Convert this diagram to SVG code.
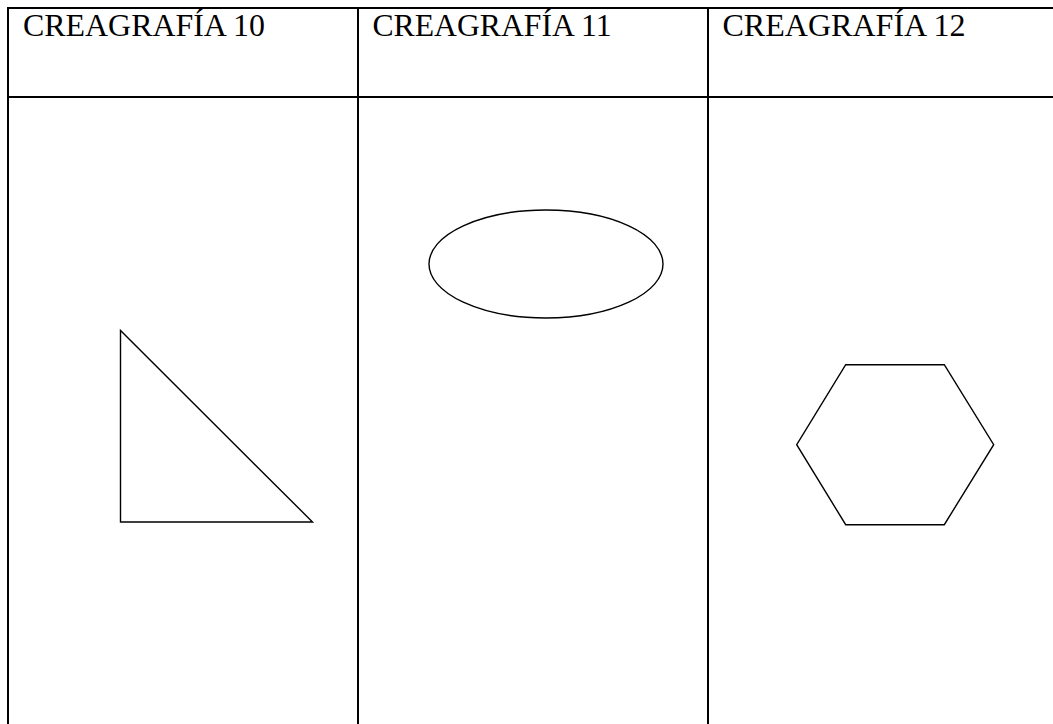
<svg xmlns="http://www.w3.org/2000/svg" width="1053" height="724" viewBox="0 0 1053 724">
<style>
.grid{stroke:#000;stroke-width:2;fill:none}
.shape{stroke:#000;stroke-width:1.4;fill:none}
.hdr{font-family:"Liberation Serif","Times New Roman",serif;font-size:31px;fill:#000}
</style>
<rect width="1053" height="724" fill="#fff"/>
<g id="table" class="grid">
<line x1="7" y1="8" x2="1053" y2="8"/>
<line x1="7" y1="97" x2="1053" y2="97"/>
<line x1="8" y1="7" x2="8" y2="724"/>
<line x1="358" y1="7" x2="358" y2="724"/>
<line x1="708" y1="7" x2="708" y2="724"/>
</g>
<g id="header10"><text class="hdr" x="23" y="35.5" textLength="242" lengthAdjust="spacingAndGlyphs">CREAGRAFÍA 10</text></g>
<g id="header11"><text class="hdr" x="372.5" y="35.5" textLength="239" lengthAdjust="spacingAndGlyphs">CREAGRAFÍA 11</text></g>
<g id="header12"><text class="hdr" x="722.5" y="35.5" textLength="243" lengthAdjust="spacingAndGlyphs">CREAGRAFÍA 12</text></g>
<g id="triangle"><polygon class="shape" points="120.5,330.5 120.5,522 312.5,522"/></g>
<g id="ellipse"><ellipse class="shape" cx="546" cy="264" rx="117" ry="54"/></g>
<g id="hexagon"><polygon class="shape" points="845.7,364.7 944.3,364.7 993.7,444.7 944.3,524.7 845.7,524.7 796.7,444.7"/></g>
<g id="connectors"></g>
</svg>
